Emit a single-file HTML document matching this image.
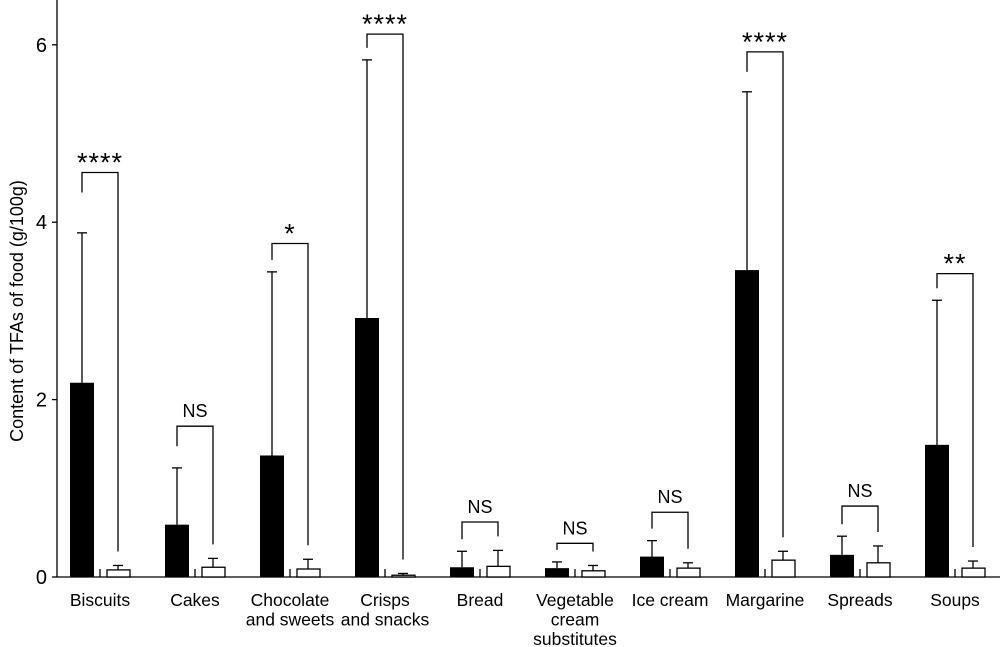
<!DOCTYPE html>
<html><head><meta charset="utf-8"><style>
body{margin:0;background:#fff}
svg{display:block;font-family:"Liberation Sans",Arial,sans-serif}
</style></head><body>
<svg id="chart" width="1000" height="647" viewBox="0 0 1000 647"></svg>
<script>
const categories=[["Biscuits"],["Cakes"],["Chocolate","and sweets"],["Crisps","and snacks"],["Bread"],["Vegetable","cream","substitutes"],["Ice cream"],["Margarine"],["Spreads"],["Soups"]];
const blackMeans=[2.19,0.59,1.37,2.92,0.11,0.10,0.23,3.46,0.25,1.49];
const blackErrTop=[3.88,1.23,3.44,5.83,0.29,0.17,0.41,5.47,0.46,3.12];
const whiteMeans=[0.08,0.11,0.09,0.02,0.12,0.07,0.10,0.19,0.16,0.10];
const whiteErrTop=[0.13,0.21,0.20,0.04,0.30,0.13,0.16,0.29,0.35,0.18];
const sigLabels=["****","NS","*","****","NS","NS","NS","****","NS","**"];
const bracketLevels=[4.56,1.70,3.76,6.12,0.62,0.38,0.73,5.92,0.80,3.42];
const yTicks=[0,2,4,6];
const NS="http://www.w3.org/2000/svg";
const svg=document.getElementById('chart');
const y0=577,ppu=88.7;
const y=v=>y0-v*ppu;
const cx=i=>100+i*95;
function mk(t,a,p){const e=document.createElementNS(NS,t);for(const k in a)e.setAttribute(k,a[k]);(p||svg).appendChild(e);return e;}
let e;
e=mk('line',{x1:57,y1:y(6.6),x2:57,y2:y0,stroke:'#000','stroke-width':1.3});


e=mk('line',{x1:57,y1:y0,x2:1000,y2:y0,stroke:'#000','stroke-width':1.3});


yTicks.forEach(t=>{
 e=mk('line',{x1:52,y1:y(t),x2:57,y2:y(t),stroke:'#000','stroke-width':1.3});
 
 
 e=mk('text',{x:47,y:y(t)+7,'text-anchor':'end','font-size':20});e.textContent=t;
 
 
});
e=mk('text',{transform:'translate(23,311) rotate(-90)','text-anchor':'middle','font-size':18});
e.textContent='Content of TFAs of food (g/100g)';


categories.forEach((c,i)=>{
 const x=cx(i);
 e=mk('line',{x1:x,y1:y0-8,x2:x,y2:y0,stroke:'#000','stroke-width':1.3});
 
 
 const bx=x-18,wx=x+18;
 e=mk('line',{x1:bx,y1:y(blackMeans[i]),x2:bx,y2:y(blackErrTop[i]),stroke:'#000','stroke-width':1.3});
 
 
 e=mk('line',{x1:bx-5,y1:y(blackErrTop[i]),x2:bx+5,y2:y(blackErrTop[i]),stroke:'#000','stroke-width':1.3});
 
 
 e=mk('rect',{x:x-30,y:y(blackMeans[i]),width:24,height:blackMeans[i]*ppu,fill:'#000'});
 
 
 e=mk('line',{x1:wx,y1:y(whiteMeans[i]),x2:wx,y2:y(whiteErrTop[i]),stroke:'#000','stroke-width':1.3});
 
 
 e=mk('line',{x1:wx-5,y1:y(whiteErrTop[i]),x2:wx+5,y2:y(whiteErrTop[i]),stroke:'#000','stroke-width':1.3});
 
 
 e=mk('rect',{x:x+7,y:y(whiteMeans[i]),width:23,height:whiteMeans[i]*ppu,fill:'#fff',stroke:'#000','stroke-width':1.3});
 
 
 const by=y(bracketLevels[i]);
 const ly=Math.min(by+20,y(blackErrTop[i])-12);
 const ry=y(whiteErrTop[i])-14;
 e=mk('polyline',{points:`${bx},${ly} ${bx},${by} ${wx},${by} ${wx},${ry}`,fill:'none',stroke:'#000','stroke-width':1.3});
 
 
 const star=sigLabels[i]!='NS';
 e=mk('text',{x:x,y:star?by-1:by-9,'text-anchor':'middle','font-size':star?27:18,'letter-spacing':star?'1':'0'});
 e.textContent=sigLabels[i];
 
 
 c.forEach((line,j)=>{
  e=mk('text',{x:x,y:606+j*19.5,'text-anchor':'middle','font-size':17.5});
  e.textContent=line;
  
  
 });
});
</script>
</body></html>
